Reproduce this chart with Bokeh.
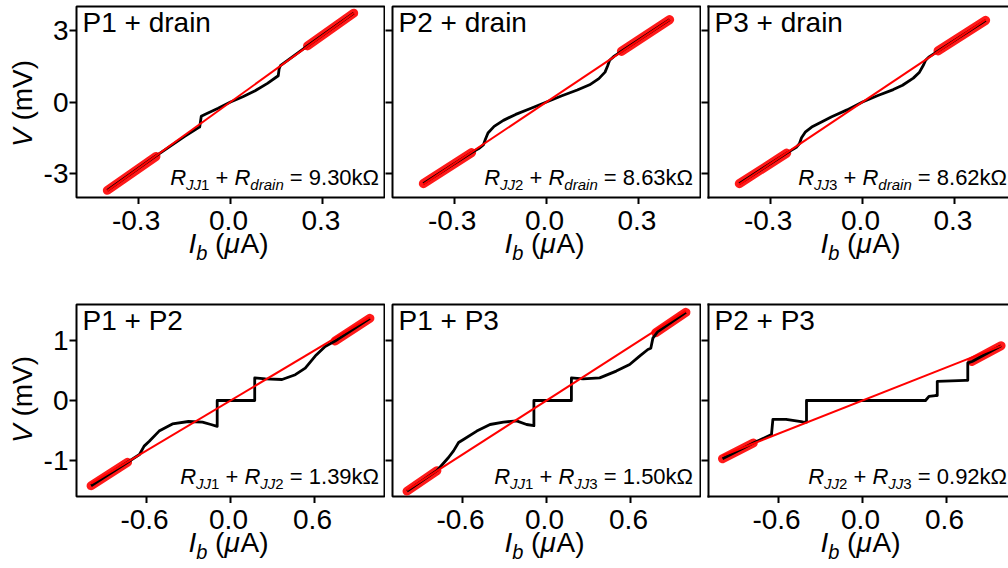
import math
from bokeh.plotting import figure
from bokeh.models import Label, FixedTicker, LinearAxis, Range1d
from bokeh.layouts import row, column
from bokeh.embed import file_html
from bokeh.resources import INLINE

FONT = "Liberation Sans"

# ---------------- data ----------------
titles = ["P1 + drain", "P2 + drain", "P3 + drain", "P1 + P2", "P1 + P3", "P2 + P3"]
sub_a = ["JJ1", "JJ2", "JJ3", "JJ1", "JJ1", "JJ2"]
sub_b = ["drain", "drain", "drain", "JJ2", "JJ3", "JJ3"]
res_vals = ["9.30", "8.63", "8.62", "1.39", "1.50", "0.92"]

top_xticks = [-0.3, 0.0, 0.3]
top_xlabels = ["-0.3", "0.0", "0.3"]
bot_xticks = [-0.6, 0.0, 0.6]
bot_xlabels = ["-0.6", "0.0", "0.6"]
top_yticks = [-3, 0, 3]
top_ylabels = ["-3", "0", "3"]
bot_yticks = [-1, 0, 1]
bot_ylabels = ["-1", "0", "1"]

# measured I-V curves (I in uA, V in mV)
i_p1d = [-0.40, -0.25, -0.15, -0.105, -0.10, -0.095, -0.08, -0.04, 0.0, 0.04, 0.08, 0.12, 0.155, 0.158, 0.162, 0.25, 0.40]
v_p1d = [-3.70, -2.33, -1.45, -1.08, -1.05, -0.60, -0.50, -0.26, 0.0, 0.22, 0.47, 0.78, 1.10, 1.40, 1.52, 2.35, 3.72]

i_p2d = [-0.40, -0.243, -0.22, -0.205, -0.198, -0.19, -0.17, -0.14, -0.10, -0.05, 0.0, 0.05, 0.10, 0.14, 0.17, 0.19, 0.198, 0.205, 0.22, 0.243, 0.40]
v_p2d = [-3.42, -2.12, -1.95, -1.80, -1.55, -1.30, -1.02, -0.77, -0.52, -0.26, 0.0, 0.26, 0.50, 0.72, 0.98, 1.25, 1.50, 1.75, 1.92, 2.12, 3.45]

i_p3d = [-0.40, -0.246, -0.215, -0.205, -0.198, -0.185, -0.165, -0.13, -0.10, -0.05, 0.0, 0.05, 0.10, 0.13, 0.165, 0.185, 0.198, 0.205, 0.215, 0.246, 0.40]
v_p3d = [-3.42, -2.14, -1.90, -1.75, -1.50, -1.25, -1.05, -0.82, -0.62, -0.33, 0.0, 0.27, 0.52, 0.70, 1.00, 1.25, 1.55, 1.75, 1.88, 2.14, 3.42]

i_p12 = [-0.996, -0.735, -0.65, -0.617, -0.58, -0.51, -0.415, -0.30, -0.20, -0.14, -0.095, -0.095, 0.173, 0.173, 0.25, 0.368, 0.463, 0.534, 0.605, 0.676, 0.747, 0.996]
v_p12 = [-1.42, -1.03, -0.90, -0.76, -0.68, -0.51, -0.39, -0.35, -0.36, -0.40, -0.43, 0.0, 0.0, 0.377, 0.36, 0.35, 0.43, 0.54, 0.74, 0.90, 0.99, 1.37]

i_p13 = [-0.996, -0.783, -0.70, -0.664, -0.628, -0.593, -0.498, -0.403, -0.308, -0.214, -0.142, -0.09, -0.09, 0.178, 0.178, 0.261, 0.38, 0.498, 0.594, 0.665, 0.724, 0.745, 0.76, 0.795, 0.996]
v_p13 = [-1.51, -1.17, -0.95, -0.84, -0.70, -0.65, -0.51, -0.40, -0.36, -0.34, -0.40, -0.42, 0.0, 0.0, 0.377, 0.36, 0.377, 0.49, 0.60, 0.74, 0.85, 0.87, 1.04, 1.15, 1.47]

i_p23 = [-1.0, -0.78, -0.65, -0.64, -0.546, -0.427, -0.40, -0.40, 0.45, 0.475, 0.52, 0.534, 0.534, 0.735, 0.752, 0.752, 0.783, 0.99]
v_p23 = [-0.97, -0.71, -0.565, -0.316, -0.316, -0.355, -0.36, 0.0, 0.0, 0.07, 0.083, 0.083, 0.32, 0.337, 0.337, 0.626, 0.65, 0.913]

curves_i = [i_p1d, i_p2d, i_p3d, i_p12, i_p13, i_p23]
curves_v = [v_p1d, v_p2d, v_p3d, v_p12, v_p13, v_p23]

# linear fits (end points of the red line)
fit_i = [[-0.40, 0.40], [-0.40, 0.40], [-0.40, 0.40], [-0.996, 0.996], [-0.996, 0.996], [-1.0, 0.99]]
fit_v = [[-3.72, 3.72], [-3.45, 3.45], [-3.45, 3.45], [-1.385, 1.385], [-1.495, 1.495], [-0.92, 0.91]]

# fitted data points (red bands), low and high bias
band_lo_i = [[-0.40, -0.242], [-0.40, -0.243], [-0.40, -0.246], [-0.996, -0.735], [-0.996, -0.783], [-1.0, -0.78]]
band_lo_v = [[-3.70, -2.28], [-3.42, -2.12], [-3.42, -2.14], [-1.42, -1.03], [-1.51, -1.17], [-0.97, -0.71]]
band_hi_i = [[0.25, 0.40], [0.243, 0.40], [0.245, 0.40], [0.747, 0.996], [0.78, 0.996], [0.78, 0.99]]
band_hi_v = [[2.35, 3.72], [2.12, 3.45], [2.14, 3.42], [0.99, 1.37], [1.13, 1.47], [0.65, 0.913]]

# ---------------- helpers ----------------
ADV = {' ': 278, '(': 333, ')': 333, '+': 584, '=': 584, '.': 278, '-': 333,
       'A': 667, 'I': 278, 'J': 500, 'R': 722, 'V': 667, 'P': 667,
       'a': 556, 'b': 556, 'd': 556, 'i': 222, 'k': 500, 'm': 833, 'n': 556,
       'r': 333, 'μ': 576, 'Ω': 768}
BASE_FIX = 0.36  # Label baseline correction (fraction of font size)


def tw(s, size):
    return sum(ADV.get(c, 556) for c in s) * size / 1000.0


def rich(p, pieces, x, y, align="left", angle=0.0, x_data=False):
    """Place mixed-style text pieces one after another."""
    total = sum(tw(t, s) for t, s, st, dy in pieces)
    off = {"left": 0.0, "center": -total / 2.0, "right": -total}[align]
    for t, s, st, dy in pieces:
        lead = len(t) - len(t.lstrip(" "))
        txt = t.strip(" ")
        o = off + tw(" " * lead, s)
        if txt:
            kw = dict(text=txt, text_font=FONT, text_font_size=f"{s}px", text_font_style=st,
                      text_color="black", text_align="left", text_baseline="alphabetic",
                      y_units="screen")
            if angle:
                lab = Label(x=x - dy - BASE_FIX * s, y=y + o, angle=angle, x_units="screen", **kw)
            elif x_data:
                lab = Label(x=x, x_offset=o, y=y + dy + BASE_FIX * s, x_units="data", **kw)
            else:
                lab = Label(x=x + o, y=y + dy + BASE_FIX * s, x_units="screen", **kw)
            p.add_layout(lab)
        off += tw(t, s)


def style_axis(ax, ticks, labels, show_labels):
    ax.ticker = FixedTicker(ticks=ticks)
    ax.major_label_overrides = {t: l for t, l in zip(ticks, labels)}
    ax.major_tick_out = 7
    ax.major_tick_in = 0
    ax.major_tick_line_width = 2
    ax.major_tick_line_color = "black"
    ax.minor_tick_line_color = None
    ax.major_label_text_font = FONT
    if show_labels:
        ax.major_label_text_color = "black"
        ax.major_label_text_font_size = "28px"
        ax.major_label_standoff = 1
    else:
        ax.major_label_text_color = None
        ax.major_label_text_font_size = "0px"
        ax.major_label_standoff = 0


def blank(**kw):
    s = figure(min_border=0, x_axis_location=None, y_axis_location=None,
               output_backend="svg", toolbar_location=None, tools="", **kw)
    s.grid.visible = False
    s.outline_line_color = None
    s.background_fill_color = "white"
    s.border_fill_color = "white"
    return s


FW = [308, 308, 302]
LB = [34, 7, 7]
RB = [1, 1, 0]
ANN_RIGHT = [303, 301, 299]


def make_panel(k):
    col = k % 3
    rw = k // 3
    fw, lb, rb = FW[col], LB[col], RB[col]
    if rw == 0:
        fh, tb, bb = 191, 6, 7
        half = 0.5
        yr = (-4.0, 4.0)
    else:
        fh, tb, bb = 192, 2, 7
        half = 1.1
        yr = (-1.6, 1.6)
    x0 = -half
    x1 = -half + fw * (2 * half) / 308.0
    p = figure(frame_width=fw, frame_height=fh, min_border_left=lb, min_border_right=rb,
               min_border_top=tb, min_border_bottom=bb,
               x_range=Range1d(x0, x1), y_range=Range1d(*yr),
               output_backend="svg", toolbar_location=None, tools="")
    p.grid.visible = False
    p.background_fill_color = "white"
    p.border_fill_color = "white"

    xt, xl = (top_xticks, top_xlabels) if rw == 0 else (bot_xticks, bot_xlabels)
    yt, yl = (top_yticks, top_ylabels) if rw == 0 else (bot_yticks, bot_ylabels)
    style_axis(p.xaxis[0], xt, xl, False)
    style_axis(p.yaxis[0], yt, yl, col == 0)

    if col < 2:
        p.outline_line_color = "black"
        p.outline_line_width = 2
        p.xaxis.axis_line_color = None
        p.yaxis.axis_line_color = None
    else:
        p.outline_line_color = None
        for ax in (p.xaxis[0], p.yaxis[0]):
            ax.axis_line_color = "black"
            ax.axis_line_width = 2
            ax.axis_line_cap = "square"
        top_ax = LinearAxis(ticker=FixedTicker(ticks=[]), major_label_text_font_size="0px",
                            major_label_text_color=None,
                            major_tick_out=0, major_tick_in=0, minor_tick_out=0, minor_tick_in=0,
                            major_label_standoff=0, axis_line_width=2, axis_line_color="black",
                            axis_line_cap="square")
        p.add_layout(top_ax, "above")

    # data
    p.line(band_lo_i[k], band_lo_v[k], line_color="red", line_width=9, line_cap="round", line_alpha=0.9)
    p.line(band_hi_i[k], band_hi_v[k], line_color="red", line_width=9, line_cap="round", line_alpha=0.9)
    p.line(curves_i[k], curves_v[k], line_color="black", line_width=2.8, line_join="round")
    p.line(fit_i[k], fit_v[k], line_color="red", line_width=2)

    # title
    rich(p, [(titles[k], 28, "normal", 0)], 6, fh - 26)
    # resistance annotation
    pieces = [("R", 22, "italic", 0), (sub_a[k][:2], 15, "italic", -5), (sub_a[k][2:], 15, "normal", -5),
              (" + ", 22, "normal", 0), ("R", 22, "italic", 0)]
    if sub_b[k] == "drain":
        pieces.append(("drain", 15, "italic", -5))
    else:
        pieces += [(sub_b[k][:2], 15, "italic", -5), (sub_b[k][2:], 15, "normal", -5)]
    pieces.append((" = " + res_vals[k] + "kΩ", 22, "normal", 0))
    rich(p, pieces, ANN_RIGHT[col], 12.5, align="right")
    return p


panels = [make_panel(k) for k in range(6)]

# strips under each panel: x tick labels and x-axis label, sharing the panel's x range
xlab_pieces = [("I", 28, "italic", 0), ("b", 20, "italic", -7), (" (", 28, "normal", 0),
               ("μ", 28, "italic", 0), ("A)", 28, "normal", 0)]
STRIP_H = [98, 63]
TICK_Y = [71.5, 36.5]
XLAB_Y = [49, 14]


def make_strip(k):
    col = k % 3
    rw = k // 3
    pan = panels[k]
    h = STRIP_H[rw]
    s = blank(frame_width=FW[col], frame_height=h, min_border_left=LB[col], min_border_right=RB[col],
              x_range=pan.x_range, y_range=Range1d(0, h))
    xt, xl = (top_xticks, top_xlabels) if rw == 0 else (bot_xticks, bot_xlabels)
    for t, lab in zip(xt, xl):
        s.add_layout(Label(x=t, y=TICK_Y[rw] + BASE_FIX * 28, x_units="data", y_units="screen",
                           text=lab, text_font=FONT, text_font_size="28px", text_color="black",
                           text_align="center", text_baseline="alphabetic"))
    rich(s, xlab_pieces, 0.0, XLAB_Y[rw], align="center", x_data=True)
    return s


strips = [make_strip(k) for k in range(6)]

# left strip with the y-axis labels
LEFT_W = 40
TOTAL_H = 566
left = blank(width=LEFT_W, height=TOTAL_H, x_range=Range1d(0, LEFT_W), y_range=Range1d(0, TOTAL_H))
for yc in (TOTAL_H - 103, TOTAL_H - 399):
    rich(left, [("V", 28, "italic", 0), (" (mV)", 28, "normal", 0)], 32, yc,
         align="center", angle=math.pi / 2)

layout = row(left, column(row(*panels[:3]), row(*strips[:3]), row(*panels[3:]), row(*strips[3:])))

open("out.html", "w").write(file_html(layout, INLINE))
